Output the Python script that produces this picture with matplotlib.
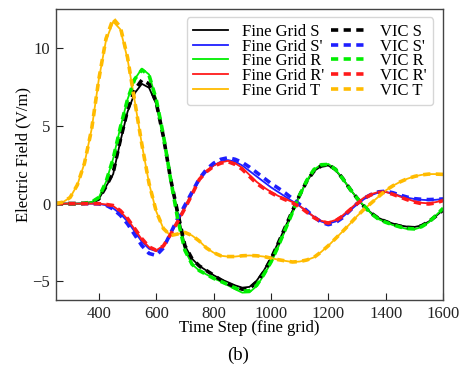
import matplotlib.pyplot as plt
import numpy as np

plt.rcParams['font.family'] = ['Liberation Serif', 'DejaVu Serif']
plt.rcParams['mathtext.fontset'] = 'stix'

# time steps (fine grid)
steps = np.arange(250, 1601, 25)

# Fine grid probes
fine_S = [0, 0, 0, 0, 0.02, 0.1, 0.3, 1.1, 1.9, 4.0, 5.9, 7.1, 7.7, 7.45, 6.4, 4.3,
          1.6, -0.6, -2.7, -3.55, -4.0, -4.3, -4.6, -4.85, -5.05, -5.25, -5.4, -5.35,
          -4.95, -4.3, -3.5, -2.5, -1.5, -0.45, 0.55, 1.45, 2.1, 2.4, 2.45, 2.15, 1.6,
          0.95, 0.35, -0.2, -0.6, -0.92, -1.12, -1.28, -1.4, -1.48, -1.5, -1.4, -1.15,
          -0.8, -0.4]
fine_Sp = [0, 0, 0, 0, 0, 0, -0.02, -0.1, -0.3, -0.65, -1.15, -1.8, -2.45, -2.9,
           -3.05, -2.75, -1.95, -1.05, -0.2, 0.65, 1.5, 2.05, 2.45, 2.7, 2.8, 2.7,
           2.45, 2.1, 1.75, 1.4, 1.05, 0.75, 0.45, 0.15, -0.15, -0.5, -0.85, -1.15,
           -1.28, -1.15, -0.85, -0.45, -0.05, 0.3, 0.55, 0.72, 0.75, 0.65, 0.5, 0.38,
           0.3, 0.25, 0.22, 0.25, 0.3]
fine_R = [0, 0, 0, 0, 0.02, 0.1, 0.4, 1.4, 2.9, 4.9, 6.7, 8.0, 8.68, 8.3, 6.7, 4.4,
          1.6, -1.0, -3.0, -3.9, -4.3, -4.55, -4.8, -5.0, -5.25, -5.5, -5.72, -5.7,
          -5.3, -4.6, -3.8, -2.8, -1.7, -0.6, 0.5, 1.5, 2.2, 2.5, 2.55, 2.2, 1.6,
          0.95, 0.35, -0.15, -0.65, -1.0, -1.2, -1.38, -1.52, -1.63, -1.65, -1.5,
          -1.2, -0.75, -0.3]
fine_Rp = [0, 0, 0, 0, 0, 0, 0, -0.05, -0.15, -0.5, -1.0, -1.65, -2.3, -2.8, -3.0,
           -2.7, -1.95, -1.15, -0.3, 0.6, 1.6, 2.1, 2.45, 2.65, 2.75, 2.6, 2.3, 1.85,
           1.4, 1.05, 0.75, 0.5, 0.3, 0.1, -0.15, -0.5, -0.85, -1.1, -1.2, -1.05,
           -0.75, -0.35, 0.05, 0.4, 0.62, 0.75, 0.75, 0.62, 0.45, 0.3, 0.15, 0.05,
           0.02, 0.1, 0.2]
fine_T = [0, 0.1, 0.4, 1.2, 2.6, 4.8, 8.0, 10.5, 11.7, 11.2, 9.3, 6.6, 3.8, 1.3,
          -0.5, -1.6, -2.05, -1.95, -1.85, -2.05, -2.4, -2.85, -3.15, -3.35, -3.4,
          -3.4, -3.35, -3.33, -3.35, -3.4, -3.5, -3.6, -3.68, -3.75, -3.72, -3.62,
          -3.45, -3.1, -2.7, -2.24, -1.78, -1.3, -0.8, -0.35, 0.05, 0.45, 0.85, 1.15,
          1.4, 1.6, 1.75, 1.85, 1.9, 1.9, 1.88]

# VIC probes
vic_S = [0, 0, 0, 0, 0.02, 0.1, 0.3, 1.1, 2.0, 4.1, 6.0, 7.3, 7.95, 7.7, 6.5, 4.3,
         1.6, -0.6, -2.7, -3.55, -4.0, -4.3, -4.6, -4.9, -5.15, -5.35, -5.5, -5.45,
         -5.05, -4.4, -3.55, -2.55, -1.5, -0.45, 0.55, 1.45, 2.1, 2.42, 2.5, 2.2,
         1.62, 0.95, 0.35, -0.2, -0.62, -0.95, -1.15, -1.32, -1.45, -1.53, -1.55,
         -1.42, -1.15, -0.8, -0.4]
vic_Sp = [0, 0, 0, 0, 0, 0, -0.02, -0.1, -0.35, -0.75, -1.3, -2.0, -2.7, -3.2,
          -3.33, -2.85, -1.9, -0.95, -0.1, 0.75, 1.6, 2.2, 2.6, 2.85, 2.95, 2.85,
          2.65, 2.35, 2.0, 1.65, 1.3, 1.0, 0.68, 0.32, -0.05, -0.45, -0.85, -1.2,
          -1.35, -1.22, -0.9, -0.45, 0.0, 0.35, 0.6, 0.76, 0.8, 0.7, 0.55, 0.42, 0.32,
          0.28, 0.26, 0.28, 0.3]
vic_R = [0, 0, 0, 0, 0.02, 0.1, 0.4, 1.4, 2.9, 4.9, 6.7, 8.0, 8.6, 8.25, 6.7, 4.4,
         1.6, -1.0, -3.0, -3.9, -4.3, -4.55, -4.8, -5.0, -5.2, -5.42, -5.62, -5.6,
         -5.25, -4.55, -3.75, -2.75, -1.65, -0.55, 0.55, 1.5, 2.2, 2.5, 2.52, 2.2,
         1.6, 0.95, 0.35, -0.15, -0.65, -1.0, -1.2, -1.36, -1.5, -1.6, -1.62, -1.48,
         -1.2, -0.75, -0.3]
vic_Rp = [0, 0, 0, 0, 0, 0, 0, -0.05, -0.12, -0.45, -0.95, -1.6, -2.25, -2.78, -3.0,
          -2.72, -1.98, -1.15, -0.3, 0.6, 1.55, 2.05, 2.4, 2.6, 2.7, 2.52, 2.2, 1.75,
          1.3, 0.98, 0.7, 0.45, 0.25, 0.05, -0.2, -0.55, -0.9, -1.15, -1.25, -1.1,
          -0.8, -0.4, 0.0, 0.35, 0.58, 0.72, 0.73, 0.6, 0.42, 0.25, 0.1, 0.0, -0.02,
          0.05, 0.2]
vic_T = [0, 0.1, 0.4, 1.2, 2.6, 4.8, 8.0, 10.6, 11.9, 11.35, 9.4, 6.6, 3.8, 1.3,
         -0.5, -1.6, -2.05, -1.95, -1.85, -2.05, -2.4, -2.85, -3.15, -3.35, -3.4,
         -3.4, -3.35, -3.33, -3.35, -3.4, -3.5, -3.6, -3.68, -3.75, -3.72, -3.62,
         -3.45, -3.1, -2.7, -2.24, -1.78, -1.3, -0.8, -0.35, 0.05, 0.45, 0.85, 1.15,
         1.4, 1.6, 1.75, 1.85, 1.9, 1.9, 1.88]

names = ['S', "S'", 'R', "R'", 'T']
colors = ['#000000', '#1f1fff', '#00ee00', '#ff1a1a', '#ffbb00']
fine = [fine_S, fine_Sp, fine_R, fine_Rp, fine_T]
vic = [vic_S, vic_Sp, vic_R, vic_Rp, vic_T]

fig = plt.figure(figsize=(4.65, 3.66), dpi=100)
ax = fig.add_axes([0.12, 0.18, 0.833, 0.795])

for name, c, y in zip(names, colors, fine):
    ax.plot(steps, y, color=c, lw=1.3, label='Fine Grid ' + name)
for name, c, y in zip(names, colors, vic):
    ax.plot(steps, y, color=c, lw=2.6, ls=(0, (2.0, 1.5)), label='VIC ' + name)

ax.set_xlim(250, 1600)
ax.set_ylim(-6.2, 12.5)
ax.set_xticks([400, 600, 800, 1000, 1200, 1400, 1600])
ax.set_yticks([-5, 0, 5, 10])
ax.tick_params(direction='in', length=5, labelsize=12, colors='#222222', pad=4)
for s in ax.spines.values():
    s.set_color('#444444')
    s.set_linewidth(1.0)

ax.set_xlabel('Time Step (fine grid)', fontsize=12, labelpad=-1)
ax.set_ylabel('Electric Field (V/m)', fontsize=12, labelpad=1)

ax.legend(ncol=2, loc='upper right', fontsize=12, handlelength=2.1,
          handletextpad=0.8, columnspacing=0.45, labelspacing=-0.08,
          borderaxespad=0, borderpad=0.4, edgecolor='#cccccc',
          bbox_to_anchor=(0.974, 0.972))

fig.text(0.513, 0.03, '(b)', ha='center', va='center', fontsize=13.5)

fig.savefig('out.png', dpi=100)
